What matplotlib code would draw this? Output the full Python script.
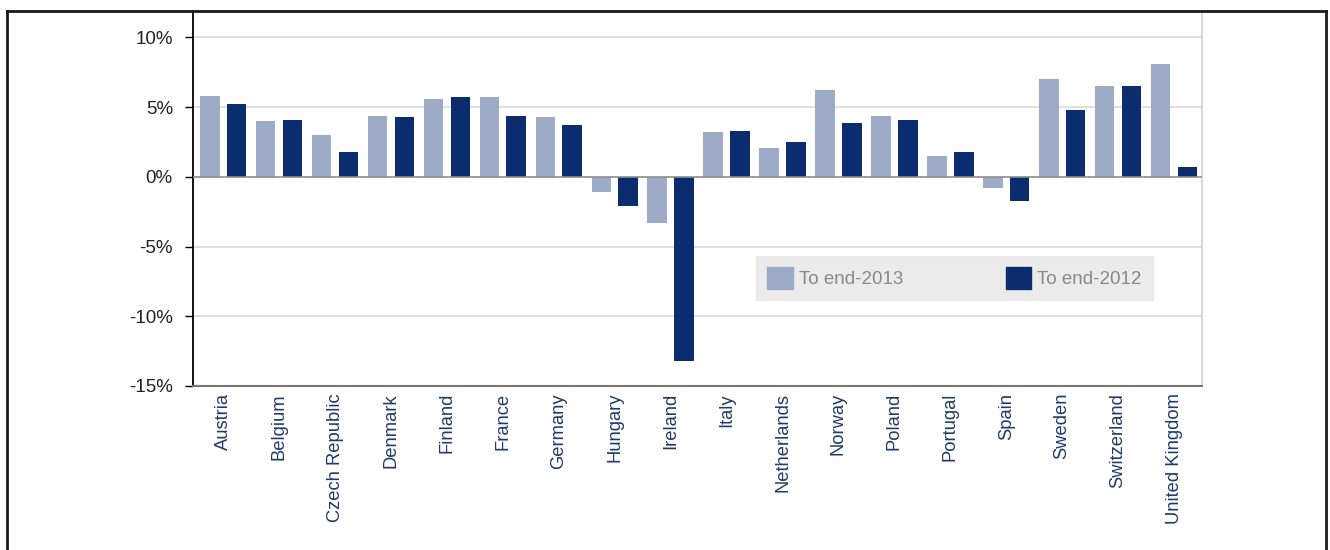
import numpy as np, matplotlib
matplotlib.use('Agg')
import matplotlib.pyplot as plt
from matplotlib.lines import Line2D
from matplotlib.patches import Patch

plt.rcParams['font.family'] = ['Liberation Sans', 'DejaVu Sans']

countries = ['Austria', 'Belgium', 'Czech Republic', 'Denmark', 'Finland', 'France',
             'Germany', 'Hungary', 'Ireland', 'Italy', 'Netherlands', 'Norway',
             'Poland', 'Portugal', 'Spain', 'Sweden', 'Switzerland', 'United Kingdom']
end_2013 = [5.8, 4.0, 3.0, 4.4, 5.6, 5.7, 4.3, -1.1, -3.3, 3.2, 2.1, 6.2,
            4.4, 1.5, -0.8, 7.0, 6.5, 8.1]
end_2012 = [5.2, 4.1, 1.8, 4.3, 5.7, 4.4, 3.7, -2.1, -13.2, 3.3, 2.5, 3.9,
            4.1, 1.8, -1.7, 4.8, 6.5, 0.7]
yticks = [-15, -10, -5, 0, 5, 10]

C = {'light': '#9DABC7', 'dark': '#0B2D6F', 'grid': '#DADADA', 'txt': '#1F3A6B'}

fig = plt.figure(figsize=(13.3, 5.5), dpi=100)
ax = fig.add_axes([193/1330, 1-386/550, (1202-193)/1330, (386-11)/550])

x = np.arange(len(countries))
w = 0.35
ax.bar(x - 0.24, end_2013, w, color=C['light'], zorder=3)
ax.bar(x + 0.24, end_2012, w, color=C['dark'], zorder=3)

ax.set_xlim(-0.54, 17.5)
ax.set_ylim(-15, 11.9)
ax.set_yticks(yticks)
ax.set_yticklabels([f'{v}%' for v in yticks], fontsize=13.5, color='#222222')
ax.set_xticks(x)
ax.set_xticklabels(countries, rotation=90, fontsize=13.2, color=C['txt'],
                   ha='center', va='top')
ax.tick_params(axis='x', length=0, pad=5)
ax.tick_params(axis='y', length=6, width=1, color='black', pad=8.5)

for v in yticks[1:]:
    if v != 0:
        ax.axhline(v, color=C['grid'], lw=1.2, zorder=1)
ax.axhline(0, color='#8C8C8C', lw=1.2, zorder=4)

ax.spines['left'].set_color('black')
ax.spines['left'].set_linewidth(1.3)
ax.spines['bottom'].set_color('#777777')
ax.spines['bottom'].set_linewidth(1.5)
ax.spines['right'].set_color('#D5D5D5')
ax.spines['right'].set_linewidth(1.3)
ax.spines['top'].set_visible(False)

leg = ax.legend(handles=[Patch(color=C['light'], label='To end-2013'),
                         Patch(color=C['dark'], label='To end-2012')],
                loc='center left', bbox_to_anchor=((756-193)/1009, (386-278)/375),
                ncol=2, frameon=True, fontsize=13.5, handlelength=1.35, handleheight=1.35,
                handletextpad=0.35, columnspacing=5.45, borderpad=0.6, fancybox=False,
                borderaxespad=0)
leg.get_frame().set_facecolor('#E6E6E6')
leg.get_frame().set_edgecolor('#E6E6E6')
for t in leg.get_texts():
    t.set_color('#888888')

# outer border, open at the bottom
bx0, bx1, by1 = 7/1330, 1326/1330, 1-11/550
for xs, ys in [([bx0, bx0], [0, by1]), ([bx0, bx1], [by1, by1]), ([bx1, bx1], [by1, 0])]:
    fig.add_artist(Line2D(xs, ys, color='#1A1A1A', lw=2))

plt.savefig('out.png', dpi=100)
